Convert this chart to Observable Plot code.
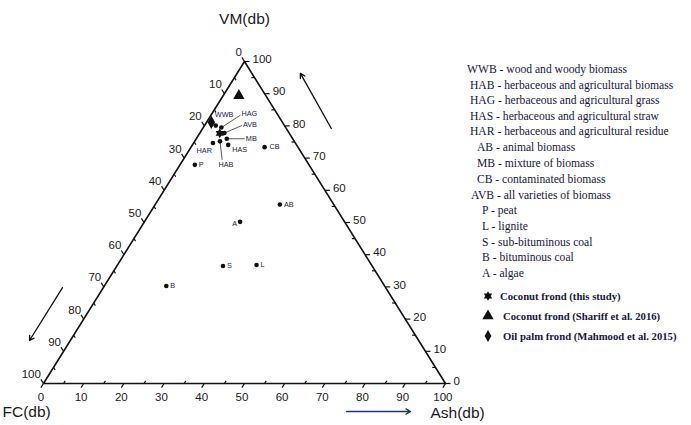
<!DOCTYPE html>
<html><head><meta charset="utf-8">
<script src="https://cdn.jsdelivr.net/npm/d3@7"></script>
<script src="https://cdn.jsdelivr.net/npm/@observablehq/plot@0.6"></script>
<style>
body{margin:0;background:#fff;}
#wrap{position:relative;width:691px;height:425px;overflow:hidden;}
#legend{position:absolute;left:0;top:0;width:691px;height:425px;pointer-events:none;font-family:"Liberation Serif","Times New Roman",serif;color:#161640;}
#legend div{position:absolute;white-space:nowrap;font-size:11.6px;line-height:12px;}
#legend div.sym{font-size:10.7px;font-weight:bold;}
#legend svg{position:absolute;}
</style></head><body><div id="wrap"></div>
<script>
// ---- data ----
const groups = ["WWB","HAB","HAG","HAS","HAR","AB","MB","CB","AVB","P","L","S","B","A"];
const groupNames = ["wood and woody biomass","herbaceous and agricultural biomass","herbaceous and agricultural grass","herbaceous and agricultural straw","herbaceous and agricultural residue","animal biomass","mixture of biomass","contaminated biomass","all varieties of biomass","peat","lignite","sub-bituminous coal","bituminous coal","algae"];
const groupVM  = [80.1, 75.2, 79.5, 74.1, 74.7, 55.6, 76.0, 73.4, 77.8, 67.9, 36.8, 36.5, 30.3, 50.2];
const groupFC  = [17.1, 18.5, 16.0, 17.0, 20.5, 13.4, 16.4,  8.3, 16.1, 28.4, 28.6, 37.1, 54.3, 26.0];
const groupAsh = [ 2.8,  6.3,  4.5,  8.9,  4.8, 31.0,  7.6, 18.3,  6.1,  3.7, 34.6, 26.4, 15.4, 23.8];

const studies = ["Coconut frond (this study)","Coconut frond (Shariff et al. 2016)","Oil palm frond (Mahmood et al. 2015)"];
const studyVM  = [77.7, 89.4, 81.1];
const studyFC  = [17.3,  6.7, 17.7];
const studyAsh = [ 5.0,  3.9,  1.2];

const majorTicks = [0,10,20,30,40,50,60,70,80,90,100];
const minorTicks = [5,15,25,35,45,55,65,75,85,95];
const axisTitles = ["VM(db)","FC(db)","Ash(db)"];

// ---- layout ----
const X0 = 43, X1 = 445, Y0 = 383, Y1 = 61;
const kx = (X1 - X0) / 100, ky = (Y0 - Y1) / 100;
const tx = (vm, ash) => ash + vm / 2;   // cartesian x in data units
const ty = (vm) => vm;
const px2x = d => d / kx, px2y = d => -d / ky;

// label placements (pixel offsets from each point) and leader lines
const place = {
  WWB:{a:"start",dx:-1,dy:-11},
  HAG:{a:"start",dx:20,dy:-13.5,lead:[19,-12.3]},
  AVB:{a:"start",dx:18.5,dy:-8,lead:[17.7,-7.5]},
  MB:{a:"start",dx:19,dy:0,lead:[17.8,0]},
  HAS:{a:"start",dx:4,dy:4.5},
  HAR:{a:"end",dx:-1,dy:8},
  HAB:{a:"middle",dx:6,dy:23,lead:[2.2,18.5]},
  CB:{a:"start",dx:5,dy:0},
  P:{a:"start",dx:4,dy:0},
  AB:{a:"start",dx:4,dy:0},
  A:{a:"end",dx:-3,dy:2},
  S:{a:"start",dx:4,dy:0},
  L:{a:"start",dx:4,dy:0},
  B:{a:"start",dx:4,dy:0}
};

const pts = groups.map((g,i)=>({g, x:tx(groupVM[i],groupAsh[i]), y:ty(groupVM[i])}));
const labs = pts.map(p=>{const o=place[p.g]; return {g:p.g, a:o.a, x:p.x+px2x(o.dx), y:p.y+px2y(o.dy)};});
const leads = pts.filter(p=>place[p.g].lead).map(p=>{const l=place[p.g].lead; return {x1:p.x,y1:p.y,x2:p.x+px2x(l[0]),y2:p.y+px2y(l[1])};});
const sp = studies.map((s,i)=>({s,i,x:tx(studyVM[i],studyAsh[i]),y:ty(studyVM[i])}));

// ticks (t in component units)
const tO = 1.3, tI = 0.8, tR = 1.25, tRI = 0.8;
const ticks = [];
const labelsB = [], labelsL = [], labelsR = [];
for (const a of majorTicks) {
  ticks.push({x1:a,y1:0,x2:a - tO/2,y2:-tO});
  labelsB.push({t:String(a), x:a - tO/2, y:-tO});
  const lx = (100-a)/2, ly = 100-a;
  ticks.push({x1:lx,y1:ly,x2:lx - tO/2,y2:ly + tO});
  labelsL.push({t:String(a), x:lx - tO/2, y:ly + tO});
  const rx = 100 - a/2, ry = a;
  ticks.push({x1:rx,y1:ry,x2:rx + tR,y2:ry});
  labelsR.push({t:String(a), x:rx + tR, y:ry});
}
for (const a of minorTicks) {
  ticks.push({x1:a,y1:0,x2:a + tI/2,y2:tI});
  const lx = (100-a)/2, ly = 100-a;
  ticks.push({x1:lx,y1:ly,x2:lx + tI/2,y2:ly - tI});
  const rx = 100 - a/2, ry = a;
  ticks.push({x1:rx,y1:ry,x2:rx - tRI,y2:ry});
}

const border = [{x:0,y:0},{x:100,y:0},{x:50,y:100},{x:0,y:0}];
const arrows = [
  {x1:4.73,y1:29.8,x2:-3.48,y2:13.35,c:"#111"},
  {x1:71.6,y1:79.2,x2:63.9,y2:96.3,c:"#111"},
  {x1:75.4,y1:-8.7,x2:91.3,y2:-8.7,c:"#1f3570"}
];

const star6 = {draw(ctx, size){
  const r = Math.sqrt(size) * 0.8;
  for (const a0 of [-Math.PI/2, Math.PI/2]) {
    ctx.moveTo(r*Math.cos(a0), r*Math.sin(a0));
    for (let i=1;i<3;i++){const a=a0+i*2*Math.PI/3; ctx.lineTo(r*Math.cos(a), r*Math.sin(a));}
    ctx.closePath();
  }
}};

const font = "Liberation Sans, Arial, Helvetica, sans-serif";
const chart = Plot.plot({
  width: 691, height: 425, margin: 0,
  style: {fontFamily: font, background: "white", overflow: "visible"},
  x: {domain:[0,100], range:[X0,X1], axis:null},
  y: {domain:[0,100], range:[Y0,Y1], axis:null},
  marks: [
    Plot.line(border, {x:"x", y:"y", stroke:"#111", strokeWidth:1.6}),
    Plot.link(ticks, {x1:"x1",y1:"y1",x2:"x2",y2:"y2", stroke:"#111", strokeWidth:1.2}),
    Plot.text(labelsB, {x:"x", y:"y", text:"t", dy:10, fontSize:11.5, fill:"#1a1a1a"}),
    Plot.text(labelsL, {x:"x", y:"y", text:"t", textAnchor:"end", dx:0, dy:-5, fontSize:11.5, fill:"#1a1a1a"}),
    Plot.text(labelsR, {x:"x", y:"y", text:"t", textAnchor:"start", dx:3, dy:-2, fontSize:11.5, fill:"#1a1a1a"}),
    Plot.text([axisTitles[0]], {x:[50], y:[100], text:d=>d, dy:-42, fontSize:15.5, fill:"#1a1a1a"}),
    Plot.text([axisTitles[1]], {x:[0], y:[0], text:d=>d, textAnchor:"start", dx:-41, dy:29, fontSize:15.5, fill:"#1a1a1a"}),
    Plot.text([axisTitles[2]], {x:[100], y:[0], text:d=>d, textAnchor:"start", dx:-15, dy:30, fontSize:15.5, fill:"#1a1a1a"}),
    Plot.arrow(arrows, {x1:"x1",y1:"y1",x2:"x2",y2:"y2", stroke:"c", strokeWidth:1.3, headLength:6}),
    Plot.link(leads, {x1:"x1",y1:"y1",x2:"x2",y2:"y2", stroke:"#333", strokeWidth:0.8}),
    Plot.dot(pts, {x:"x", y:"y", r:2.3, fill:"#111", stroke:"none"}),
    Plot.dot(sp.filter(d=>d.i===1), {x:"x", y:"y", symbol:"triangle", r:4.2, fill:"#111", stroke:"none"}),
    Plot.dot(sp.filter(d=>d.i===2), {x:"x", y:"y", symbol:"diamond", r:4, fill:"#111", stroke:"none"}),
    Plot.dot(sp.filter(d=>d.i===0), {x:"x", y:"y", symbol:star6, r:3.4, fill:"#111", stroke:"none"}),
    ...["start","middle","end"].map(a => Plot.text(labs.filter(d=>d.a===a), {x:"x", y:"y", text:"g", textAnchor:a, fontSize:7.3, fill:"#1b1b3f"}))
  ]
});

const wrap = document.getElementById("wrap");
wrap.appendChild(chart);

// legend (HTML overlay on the right)
const leg = document.createElement("div");
leg.id = "legend";
const rowY = [70,86,101,117,132,148,164,180,196,211,227,243,258,274];
const rowX = [467,470,470,470,470,477,477,477,471,482,482,482,482,482];
groups.forEach((g,i)=>{
  const d = document.createElement("div");
  d.textContent = g + " - " + groupNames[i];
  d.style.left = rowX[i] + "px";
  d.style.top = (rowY[i] - 6) + "px";
  leg.appendChild(d);
});
const symY = [296,316,336];
const symPaths = [
  () => { const p = d3.path(); star6.draw(p, 3.4*3.4*Math.PI); return p.toString(); },
  () => d3.symbol(d3.symbolTriangle, 4.2*4.2*Math.PI)(),
  () => d3.symbol(d3.symbolDiamond, 4*4*Math.PI*0.8)()
];
studies.forEach((s,i)=>{
  const ns = "http://www.w3.org/2000/svg";
  const svg = document.createElementNS(ns,"svg");
  svg.setAttribute("width",12); svg.setAttribute("height",12);
  svg.style.left = (488-6)+"px"; svg.style.top = (symY[i]-6)+"px";
  const path = document.createElementNS(ns,"path");
  path.setAttribute("d", symPaths[i]());
  path.setAttribute("transform","translate(6,6)");
  path.setAttribute("fill","#111");
  svg.appendChild(path);
  leg.appendChild(svg);
  const d = document.createElement("div");
  d.className = "sym";
  d.textContent = s;
  d.style.left = (i === 0 ? 500 : 503) + "px";
  d.style.top = (symY[i] - 6) + "px";
  leg.appendChild(d);
});
wrap.appendChild(leg);
</script>
</body></html>
